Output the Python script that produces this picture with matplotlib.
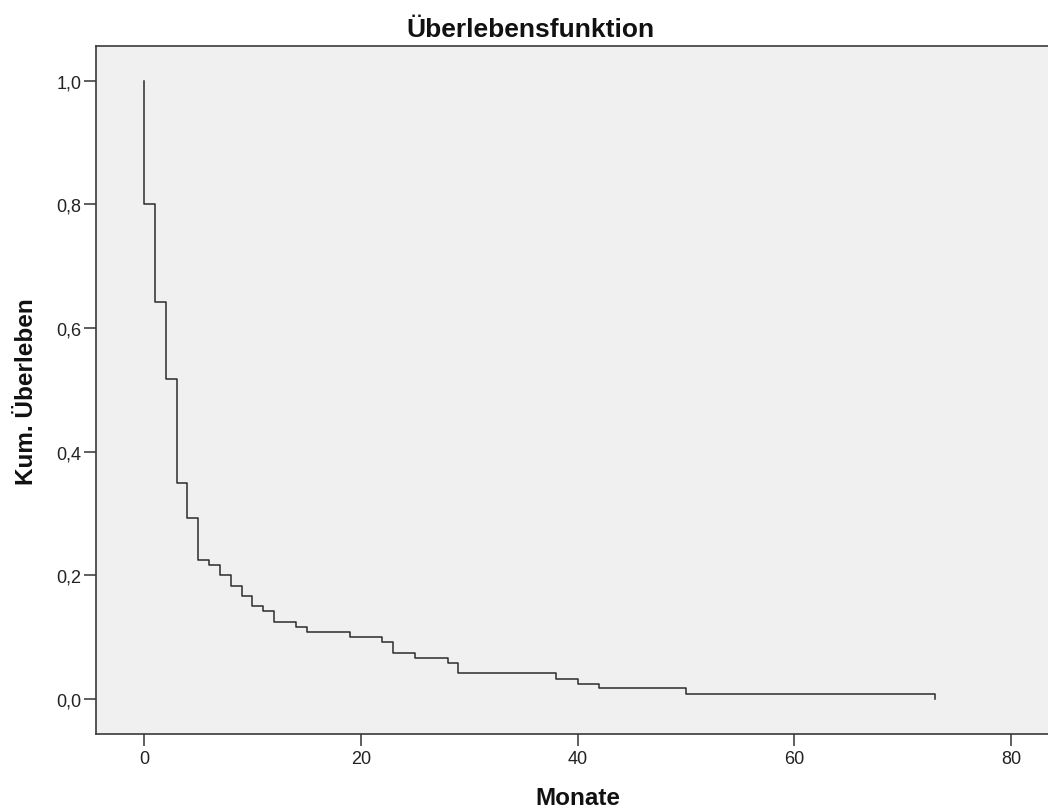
import matplotlib
matplotlib.use('Agg')
import matplotlib.pyplot as plt
from matplotlib.ticker import FuncFormatter

# Kaplan-Meier steps (time in months, cumulative survival after the event)
event_months = [0, 1, 2, 3, 4, 5, 6, 7, 8, 9, 10, 11, 12, 14, 15, 19, 22, 23, 25, 28, 29, 38, 40, 42, 50, 73]
survival = [0.800, 0.642, 0.517, 0.350, 0.292, 0.225, 0.217, 0.200, 0.183, 0.167, 0.150, 0.142, 0.125,
            0.117, 0.108, 0.100, 0.092, 0.075, 0.067, 0.058, 0.042, 0.033, 0.025, 0.017, 0.008, 0.0]
x_ticks = [0, 20, 40, 60, 80]
y_ticks = [0.0, 0.2, 0.4, 0.6, 0.8, 1.0]

plt.rcParams['font.family'] = ['Liberation Sans', 'DejaVu Sans']

W, H = 1048, 812
fig = plt.figure(figsize=(W / 100, H / 100), dpi=100)
fig.patch.set_facecolor('white')

# axes box in pixels (right edge runs past the image, as in the reference)
left, right, top, bottom = 96.3, 1058.7, 46.7, 735.0
ax = fig.add_axes([left / W, (H - bottom) / H, (right - left) / W, (bottom - top) / H])
ax.set_facecolor('#f0f0f0')

xs = [event_months[0]] + event_months
ys = [1.0] + survival
ax.step(xs, ys, where='post', color='#2b2b2b', linewidth=1.1)

ax.set_xlim(-4.41, 84.4)
ax.set_ylim(-0.0566, 1.0566)
ax.set_xticks(x_ticks)
ax.set_yticks(y_ticks)
ax.yaxis.set_major_formatter(FuncFormatter(lambda v, p: f'{v:.1f}'.replace('.', ',')))
ax.tick_params(axis='both', direction='out', length=8.5, width=1.1, color='#333333',
               labelsize=13, labelcolor='#222222')
ax.tick_params(axis='x', pad=3)
ax.tick_params(axis='y', pad=2)

for side in ['left', 'bottom', 'top']:
    ax.spines[side].set_color('#3a3a3a')
    ax.spines[side].set_linewidth(1.2)
ax.spines['right'].set_visible(False)

fig.text(530 / W, (H - 36.7) / H, 'Überlebensfunktion', ha='center', va='baseline',
         fontsize=19, fontweight='bold', color='#111111')
fig.text(577.5 / W, (H - 799) / H, 'Monate', ha='center', va='center',
         fontsize=17.5, fontweight='bold', color='#111111')
fig.text(27 / W, (H - 392) / H, 'Kum. Überleben', ha='center', va='center', rotation=90,
         fontsize=17.5, fontweight='bold', color='#111111')

fig.savefig('out.png', dpi=100)
